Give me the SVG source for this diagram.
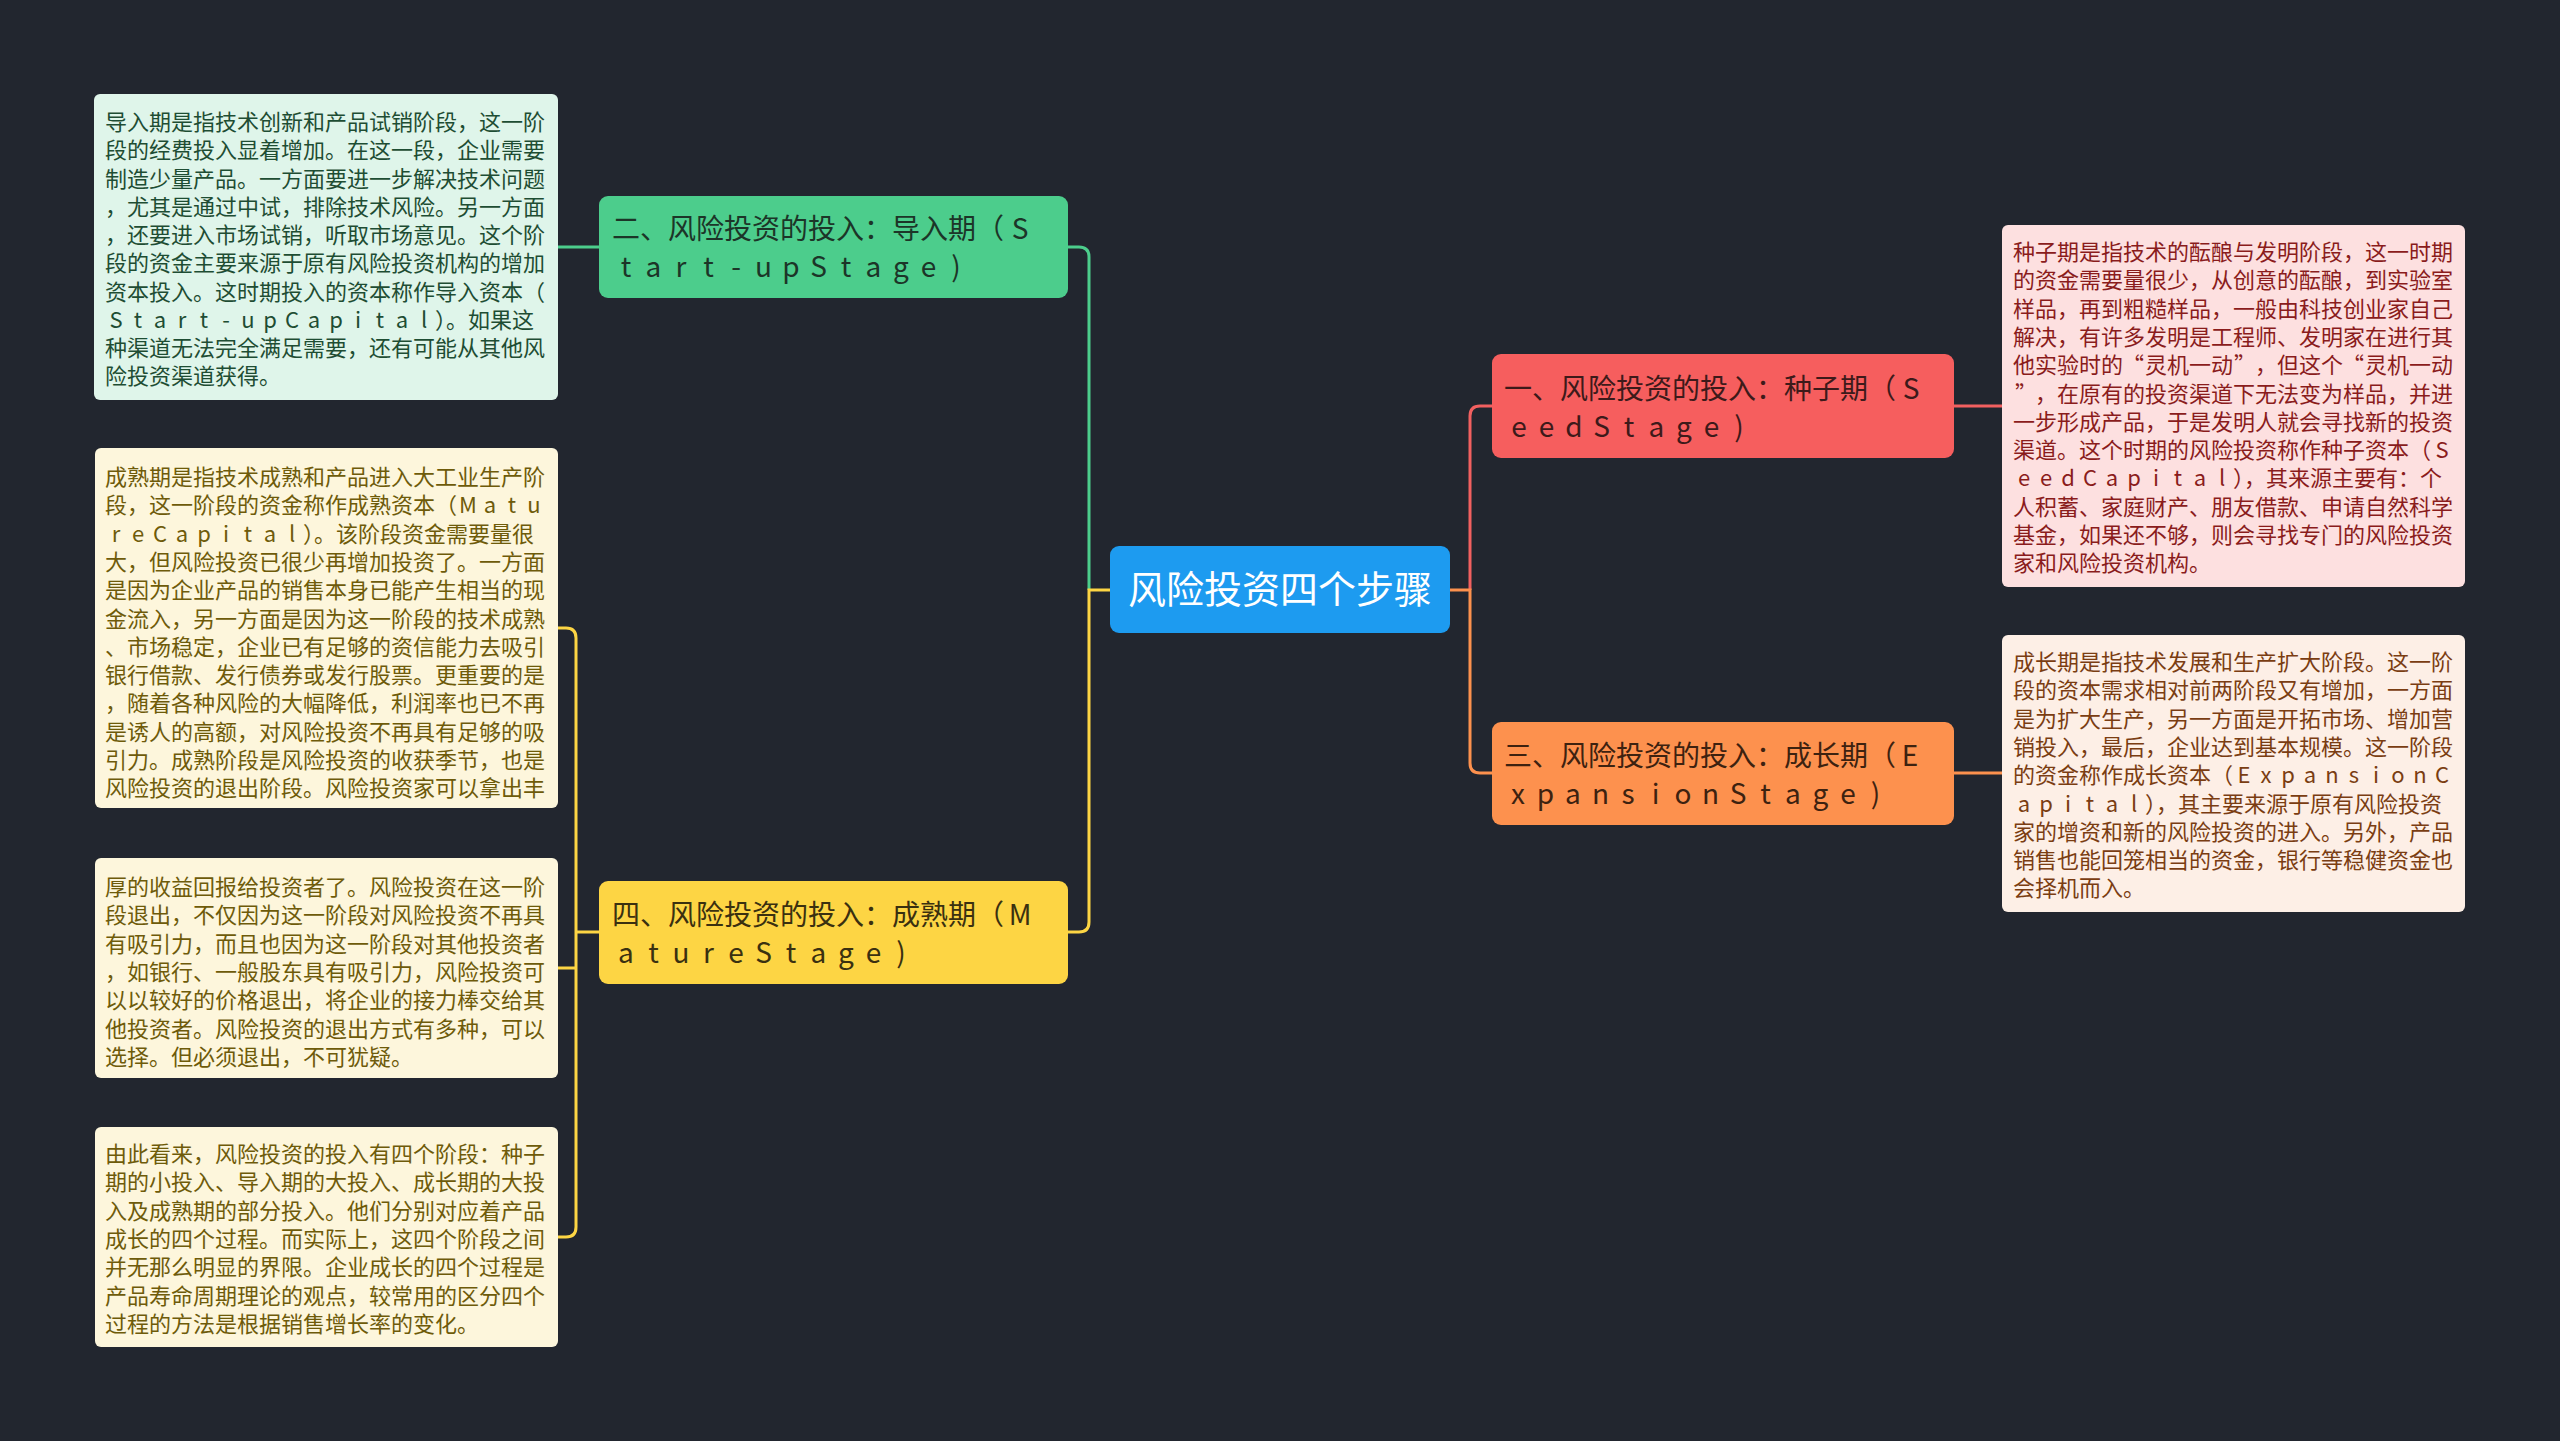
<svg xmlns="http://www.w3.org/2000/svg" width="2560" height="1441" viewBox="0 0 2560 1441">
<style>
text{font-family:"Noto Sans CJK SC","Noto Sans",sans-serif}
.d{font-size:22px}
.n{font-size:28px}
.m{text-anchor:middle}
.e{text-anchor:end}
.ta{fill:#1e4d33}.tb{fill:#6e5b0a}.te{fill:#8a1c1c}.tf{fill:#7a3d12}
.ng{fill:#1c3528}.ny{fill:#3a3010}.nr{fill:#3d1a1a}.no{fill:#3d2210}
.c{fill:none;stroke-width:3}
</style>
<rect width="2560" height="1441" fill="#22262f"/>
<g id="connectors">
<path class="c" stroke="#4ccd8c" d="M1089,590 V257 Q1089,247 1079,247 H1066"/>
<path class="c" stroke="#fdd544" d="M1112,590 H1089 V922 Q1089,932 1079,932 H1066"/>
<path class="c" stroke="#f26060" d="M1470,590 V416 Q1470,406 1480,406 H1494"/>
<path class="c" stroke="#fd914e" d="M1448,590 H1470 V763 Q1470,773 1480,773 H1494"/>
<path class="c" stroke="#f26060" d="M1952,406 H2004"/>
<path class="c" stroke="#fd914e" d="M1952,773 H2004"/>
<path class="c" stroke="#4ccd8c" d="M601,247 H556"/>
<path class="c" stroke="#fdd544" d="M601,932 H576 M556,628 H566 Q576,628 576,638 V1227 Q576,1237 566,1237 H556 M576,968 H556"/>
</g>
<g id="root">
<rect x="1110" y="546" width="340" height="87" rx="9" fill="#1d9bf0"/>
<text x="1280" y="603" font-size="38" fill="#ffffff" class="m">风险投资四个步骤</text>
</g>
<g id="n1">
<rect x="1492" y="354" width="462" height="104" rx="9" fill="#f65e5e"/>
<text class="n nr" x="1504" y="399">一、风险投资的投入：种子期（</text>
<text class="n nr m" x="1911" y="399">S</text>
<text class="n nr m" x="1519 1546.5 1574 1601.5 1629 1656.5 1684 1711.5 1739" y="437">eedStage)</text>
</g>
<g id="n2">
<rect x="599" y="196" width="469" height="102" rx="9" fill="#4ccd8c"/>
<text class="n ng" x="612" y="239">二、风险投资的投入：导入期（</text>
<text class="n ng m" x="1020" y="239">S</text>
<text class="n ng m" x="626 653.5 681 708.5 736 763.5 791 818.5 846 873.5 901 928.5 956" y="277">tart-upStage)</text>
</g>
<g id="n3">
<rect x="1492" y="722" width="462" height="103" rx="9" fill="#fd914e"/>
<text class="n no" x="1504" y="766">三、风险投资的投入：成长期（</text>
<text class="n no m" x="1910" y="766">E</text>
<text class="n no m" x="1518 1545.5 1573 1600.5 1628 1655.5 1683 1710.5 1738 1765.5 1793 1820.5 1848 1875.5" y="804">xpansionStage)</text>
</g>
<g id="n4">
<rect x="599" y="881" width="469" height="103" rx="9" fill="#fdd544"/>
<text class="n ny" x="612" y="925">四、风险投资的投入：成熟期（</text>
<text class="n ny m" x="1020" y="925">M</text>
<text class="n ny m" x="626 653.5 681 708.5 736 763.5 791 818.5 846 873.5 901" y="963">atureStage)</text>
</g>
<g id="dA">
<rect x="94" y="94" width="464" height="306" rx="6" fill="#dff5ea"/>
<text class="d ta" x="105" y="130">导入期是指技术创新和产品试销阶段，这一阶</text>
<text class="d ta" x="105" y="158">段的经费投入显着增加。在这一段，企业需要</text>
<text class="d ta" x="105" y="187">制造少量产品。一方面要进一步解决技术问题</text>
<text class="d ta" x="105" y="215">，尤其是通过中试，排除技术风险。另一方面</text>
<text class="d ta" x="105" y="243">，还要进入市场试销，听取市场意见。这个阶</text>
<text class="d ta" x="105" y="271">段的资金主要来源于原有风险投资机构的增加</text>
<text class="d ta" x="105" y="300">资本投入。这时期投入的资本称作导入资本（</text>
<text class="d ta m" x="116 138 160 182 204 226 248 270 292 314 336 358 380 402 424" y="328">Start-upCapital</text>
<text class="d ta" x="435" y="328">）。如果这</text>
<text class="d ta" x="105" y="356">种渠道无法完全满足需要，还有可能从其他风</text>
<text class="d ta" x="105" y="384">险投资渠道获得。</text>
</g>
<g id="dB">
<rect x="95" y="448" width="463" height="360" rx="6" fill="#fdf6dc"/>
<text class="d tb" x="105" y="485">成熟期是指技术成熟和产品进入大工业生产阶</text>
<text class="d tb" x="105" y="513">段，这一阶段的资金称作成熟资本（</text>
<text class="d tb m" x="468 490 512 534" y="513">Matu</text>
<text class="d tb m" x="116 138 160 182 204 226 248 270 292" y="542">reCapital</text>
<text class="d tb" x="303" y="542">）。该阶段资金需要量很</text>
<text class="d tb" x="105" y="570">大，但风险投资已很少再增加投资了。一方面</text>
<text class="d tb" x="105" y="598">是因为企业产品的销售本身已能产生相当的现</text>
<text class="d tb" x="105" y="627">金流入，另一方面是因为这一阶段的技术成熟</text>
<text class="d tb" x="105" y="655">、市场稳定，企业已有足够的资信能力去吸引</text>
<text class="d tb" x="105" y="683">银行借款、发行债券或发行股票。更重要的是</text>
<text class="d tb" x="105" y="711">，随着各种风险的大幅降低，利润率也已不再</text>
<text class="d tb" x="105" y="740">是诱人的高额，对风险投资不再具有足够的吸</text>
<text class="d tb" x="105" y="768">引力。成熟阶段是风险投资的收获季节，也是</text>
<text class="d tb" x="105" y="796">风险投资的退出阶段。风险投资家可以拿出丰</text>
</g>
<g id="dC">
<rect x="95" y="858" width="463" height="220" rx="6" fill="#fdf6dc"/>
<text class="d tb" x="105" y="895">厚的收益回报给投资者了。风险投资在这一阶</text>
<text class="d tb" x="105" y="923">段退出，不仅因为这一阶段对风险投资不再具</text>
<text class="d tb" x="105" y="952">有吸引力，而且也因为这一阶段对其他投资者</text>
<text class="d tb" x="105" y="980">，如银行、一般股东具有吸引力，风险投资可</text>
<text class="d tb" x="105" y="1008">以以较好的价格退出，将企业的接力棒交给其</text>
<text class="d tb" x="105" y="1037">他投资者。风险投资的退出方式有多种，可以</text>
<text class="d tb" x="105" y="1065">选择。但必须退出，不可犹疑。</text>
</g>
<g id="dD">
<rect x="95" y="1127" width="463" height="220" rx="6" fill="#fdf6dc"/>
<text class="d tb" x="105" y="1162">由此看来，风险投资的投入有四个阶段：种子</text>
<text class="d tb" x="105" y="1190">期的小投入、导入期的大投入、成长期的大投</text>
<text class="d tb" x="105" y="1219">入及成熟期的部分投入。他们分别对应着产品</text>
<text class="d tb" x="105" y="1247">成长的四个过程。而实际上，这四个阶段之间</text>
<text class="d tb" x="105" y="1275">并无那么明显的界限。企业成长的四个过程是</text>
<text class="d tb" x="105" y="1304">产品寿命周期理论的观点，较常用的区分四个</text>
<text class="d tb" x="105" y="1332">过程的方法是根据销售增长率的变化。</text>
</g>
<g id="dE">
<rect x="2002" y="225" width="463" height="362" rx="6" fill="#fde0e0"/>
<text class="d te" x="2013" y="260">种子期是指技术的酝酿与发明阶段，这一时期</text>
<text class="d te" x="2013" y="288">的资金需要量很少，从创意的酝酿，到实验室</text>
<text class="d te" x="2013" y="317">样品，再到粗糙样品，一般由科技创业家自己</text>
<text class="d te" x="2013" y="345">解决，有许多发明是工程师、发明家在进行其</text>
<text class="d te" x="2013" y="373">他实验时的</text>
<text class="d te e" x="2144" y="373">“</text>
<text class="d te" x="2145" y="373">灵机一动</text>
<text class="d te" x="2234" y="373">”</text>
<text class="d te" x="2255" y="373">，但这个</text>
<text class="d te e" x="2364" y="373">“</text>
<text class="d te" x="2365" y="373">灵机一动</text>
<text class="d te" x="2015" y="402">”</text>
<text class="d te" x="2035" y="402">，在原有的投资渠道下无法变为样品，并进</text>
<text class="d te" x="2013" y="430">一步形成产品，于是发明人就会寻找新的投资</text>
<text class="d te" x="2013" y="458">渠道。这个时期的风险投资称作种子资本（</text>
<text class="d te m" x="2442" y="458">S</text>
<text class="d te m" x="2024 2046 2068 2090 2112 2134 2156 2178 2200 2222" y="486">eedCapital</text>
<text class="d te" x="2233" y="486">），其来源主要有：个</text>
<text class="d te" x="2013" y="515">人积蓄、家庭财产、朋友借款、申请自然科学</text>
<text class="d te" x="2013" y="543">基金，如果还不够，则会寻找专门的风险投资</text>
<text class="d te" x="2013" y="571">家和风险投资机构。</text>
</g>
<g id="dF">
<rect x="2002" y="635" width="463" height="277" rx="6" fill="#fdefe6"/>
<text class="d tf" x="2013" y="670">成长期是指技术发展和生产扩大阶段。这一阶</text>
<text class="d tf" x="2013" y="698">段的资本需求相对前两阶段又有增加，一方面</text>
<text class="d tf" x="2013" y="727">是为扩大生产，另一方面是开拓市场、增加营</text>
<text class="d tf" x="2013" y="755">销投入，最后，企业达到基本规模。这一阶段</text>
<text class="d tf" x="2013" y="783">的资金称作成长资本（</text>
<text class="d tf m" x="2244 2266 2288 2310 2332 2354 2376 2398 2420 2442" y="783">ExpansionC</text>
<text class="d tf m" x="2024 2046 2068 2090 2112 2134" y="812">apital</text>
<text class="d tf" x="2145" y="812">），其主要来源于原有风险投资</text>
<text class="d tf" x="2013" y="840">家的增资和新的风险投资的进入。另外，产品</text>
<text class="d tf" x="2013" y="868">销售也能回笼相当的资金，银行等稳健资金也</text>
<text class="d tf" x="2013" y="896">会择机而入。</text>
</g>
</svg>
